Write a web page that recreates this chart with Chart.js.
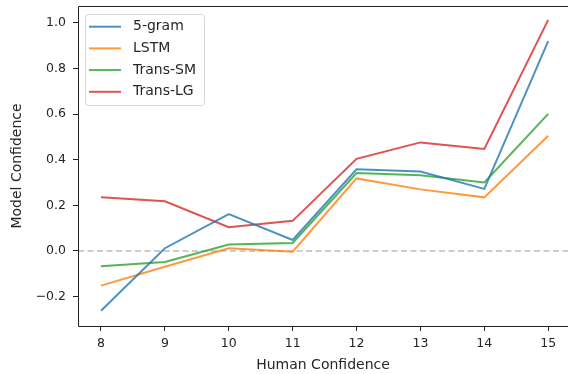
<!DOCTYPE html>
<html>
<head>
<meta charset="utf-8">
<script src="https://cdn.jsdelivr.net/npm/chart.js@4"></script>
<style>
  html, body { margin: 0; padding: 0; background: #fff; overflow: hidden; }
  #wrap { width: 568px; height: 374px; }
</style>
</head>
<body>
<div id="wrap"><canvas id="confChart"></canvas></div>
<script>
const humanConf = [8, 9, 10, 11, 12, 13, 14, 15];
const fivegram = [-0.262, 0.012, 0.162, 0.048, 0.358, 0.348, 0.272, 0.920];
const lstm     = [-0.152, -0.069, 0.012, -0.003, 0.318, 0.270, 0.235, 0.505];
const transSM  = [-0.067, -0.048, 0.028, 0.035, 0.342, 0.332, 0.300, 0.601];
const transLG  = [0.235, 0.218, 0.104, 0.132, 0.404, 0.476, 0.447, 1.013];
const yTicks = [-0.2, 0.0, 0.2, 0.4, 0.6, 0.8, 1.0];

const FONT = 'DejaVu Sans';
const textColor = '#262626';

function pts(vals) {
  return humanConf.map((x, i) => ({ x, y: vals[i] }));
}

function series(label, vals, color) {
  return {
    label,
    data: pts(vals),
    borderColor: color,
    borderWidth: 2,
    pointRadius: 0,
    fill: false,
    tension: 0
  };
}

// dashed zero line across the whole axes + spines (right spine falls off the figure)
const zeroLine = {
  id: 'zeroLine',
  beforeDatasetsDraw(chart) {
    const { ctx, chartArea: a, scales: { y } } = chart;
    const py = y.getPixelForValue(0);
    ctx.save();
    ctx.strokeStyle = 'rgba(0,0,0,0.2)';
    ctx.lineWidth = 2;
    ctx.setLineDash([6, 3.5]);
    ctx.beginPath();
    ctx.moveTo(a.left, py);
    ctx.lineTo(a.right, py);
    ctx.stroke();
    ctx.restore();
  },
  afterDraw(chart) {
    const { ctx, chartArea: a } = chart;
    const l = Math.round(a.left) + 0.5, t = Math.round(a.top) + 0.5;
    const r = chart.width, b = Math.round(a.bottom) + 0.5;
    ctx.save();
    ctx.strokeStyle = '#222';
    ctx.lineWidth = 1;
    ctx.beginPath();
    ctx.moveTo(r, t);
    ctx.lineTo(l, t);
    ctx.lineTo(l, b);
    ctx.lineTo(r, b);
    ctx.stroke();
    ctx.restore();
  }
};

// matplotlib style legend box in upper left
const boxLegend = {
  id: 'boxLegend',
  afterDraw(chart) {
    const { ctx, chartArea: a } = chart;
    const sets = chart.data.datasets;
    const x0 = a.left + 7, y0 = a.top + 8;
    const w = 119, rowH = 21.7, h = 91;
    ctx.save();
    ctx.beginPath();
    ctx.roundRect(x0 + 0.5, y0 + 0.5, w, h, 3);
    ctx.fillStyle = 'rgba(255,255,255,0.8)';
    ctx.fill();
    ctx.strokeStyle = '#d6d6d6';
    ctx.lineWidth = 1;
    ctx.stroke();
    ctx.font = '14px "' + FONT + '"';
    ctx.textBaseline = 'middle';
    sets.forEach((ds, i) => {
      const cy = y0 + 12.7 + i * rowH;
      ctx.strokeStyle = ds.borderColor;
      ctx.lineWidth = 2;
      ctx.beginPath();
      ctx.moveTo(x0 + 4, cy);
      ctx.lineTo(x0 + 36, cy);
      ctx.stroke();
      ctx.fillStyle = textColor;
      ctx.fillText(ds.label, x0 + 48, cy);
    });
    ctx.restore();
  }
};

const fmt = v => (v < 0 ? '\u2212' : '') + Math.abs(v).toFixed(1);

new Chart(document.getElementById('confChart'), {
  type: 'line',
  data: {
    datasets: [
      series('5-gram', fivegram, 'rgba(31,119,180,0.8)'),
      series('LSTM', lstm, 'rgba(255,127,14,0.8)'),
      series('Trans-SM', transSM, 'rgba(44,160,44,0.8)'),
      series('Trans-LG', transLG, 'rgba(214,39,40,0.8)')
    ]
  },
  options: {
    responsive: true,
    maintainAspectRatio: false,
    animation: false,
    layout: { padding: { top: 6, left: 0, right: 0, bottom: 0 } },
    plugins: {
      legend: { display: false },
      tooltip: { enabled: false }
    },
    scales: {
      x: {
        type: 'linear',
        min: 7.64,
        max: 15.31,
        afterBuildTicks: s => { s.ticks = humanConf.map(v => ({ value: v })); },
        afterFit: s => { s.height = 48; s.paddingLeft = 0; s.paddingRight = 0; },
        grid: { drawOnChartArea: false, drawTicks: true, tickLength: 5, color: '#222' },
        border: { display: false },
        ticks: {
          color: textColor,
          font: { family: FONT, size: 12.5 },
          padding: 5,
          maxRotation: 0,
          callback: v => String(v)
        },
        title: {
          display: true,
          text: 'Human Confidence',
          color: textColor,
          font: { family: FONT, size: 14 },
          padding: { top: 0, bottom: 0 }
        }
      },
      y: {
        type: 'linear',
        min: -0.329,
        max: 1.074,
        afterBuildTicks: s => { s.ticks = yTicks.map(v => ({ value: v })); },
        afterFit: s => { s.width = 78; s.paddingTop = 0; s.paddingBottom = 0; },
        grid: { drawOnChartArea: false, drawTicks: true, tickLength: 5, color: '#222' },
        border: { display: false },
        ticks: {
          color: textColor,
          font: { family: FONT, size: 12.5 },
          padding: 7,
          callback: v => fmt(v)
        },
        title: {
          display: true,
          text: 'Model Confidence',
          color: textColor,
          font: { family: FONT, size: 14 },
          padding: { top: 9, bottom: 0 }
        }
      }
    }
  },
  plugins: [zeroLine, boxLegend]
});
</script>
</body>
</html>
